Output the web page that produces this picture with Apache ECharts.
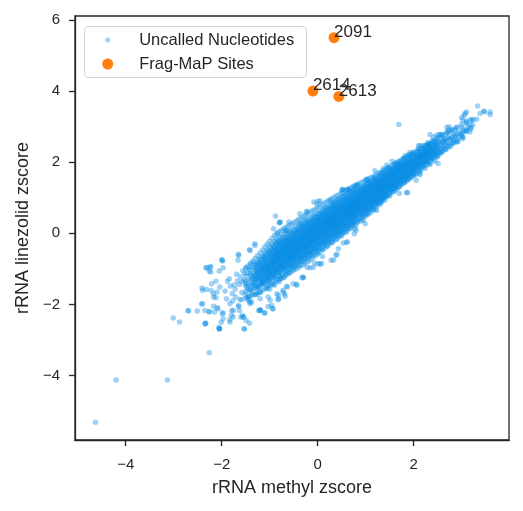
<!DOCTYPE html>
<html>
<head>
<meta charset="utf-8">
<script src="https://cdn.jsdelivr.net/npm/echarts@6/dist/echarts.min.js"></script>
<style>
html,body{margin:0;padding:0;background:#fff;}
#chart{width:523px;height:511px;}
</style>
</head>
<body>
<div id="chart"></div>
<script>
// ---- data ----
const xTickValues = [-4, -2, 0, 2];
const yTickValues = [-4, -2, 0, 2, 4, 6];
const xTickLabels = ['\u22124', '\u22122', '0', '2'];
const yTickLabels = ['\u22124', '\u22122', '0', '2', '4', '6'];

const fragNames = ['2091', '2614', '2613'];
const fragX = [0.34, -0.10, 0.44];
const fragY = [5.50, 4.00, 3.85];

const farOutliers = [
  [-4.63,-5.31],[-4.20,-4.12],[-3.13,-4.12],[-2.26,-3.36],[-3.01,-2.38],[-2.88,-2.49],
  [-2.69,-2.18],[-2.51,-2.18],[-2.42,-1.99],[-2.34,-2.54],[-2.26,-2.20],[-2.41,-1.54],
  [-2.33,-0.97],[-2.24,-0.95],[-2.26,-1.06],[-2.12,-1.35],[-2.06,-2.64],[-2.05,-2.69],
  [-2.00,-0.74],[-2.17,-1.70],[-2.22,-1.61],[-2.12,-1.81],[-2.08,-2.12],[-1.98,-2.23],
  [-2.01,-2.50],[-1.83,-2.43],[-1.80,-2.31],[-1.76,-2.17],[-1.65,-2.06],[-1.60,-2.36],
  [-1.53,-2.69],[-1.49,-2.45],[-1.42,-2.53],[-1.57,-2.31],[-1.65,-0.62],[-1.66,-0.76],
  [-1.31,-0.34],[-1.42,-0.46],[-0.88,0.49],[-0.92,0.13],[-0.78,0.31],[-0.68,0.08],
  [-1.23,-2.17],[-1.19,-2.17],[-1.11,-2.24],[-1.03,-2.06],[-0.94,-2.12],[1.69,3.06]
];

const haloPoints = [
  [-1.375,-1.93],[-1.31,-1.72],[-1.44,-1.89],[-1.03,-1.79],[-0.82,-1.75],[-0.69,-1.70],
  [-0.63,-1.51],[-0.51,-1.42],[-0.44,-1.46],[-0.33,-1.25],[-0.22,-0.95],[-0.09,-0.95],
  [-0.06,-0.84],[0.08,-0.85],[0.10,-0.65],[0.28,-0.76],[0.38,-0.62],[0.40,-0.59],
  [0.60,-0.26],[0.43,-0.43],[0.53,-0.27],[0.76,-0.01],[0.80,0.08],[0.95,0.37],
  [1.05,0.54],[1.16,0.65],[1.30,0.88],[1.38,1.02],[1.61,1.31],[1.85,1.15],[2.05,1.49],
  [2.13,1.68],[2.32,1.96],[2.50,2.15],[2.58,2.29],[2.83,2.62],[2.93,2.71],[3.02,2.85],
  [3.17,2.85],[3.33,3.58],[3.47,3.42],[3.59,3.34],[3.59,3.41],[3.38,3.37],[3.24,3.20],
  [3.07,3.37],[3.00,3.26],[3.10,3.16],[2.69,2.98],[2.72,2.90],[2.34,2.78],[2.53,2.78],
  [2.41,2.71],[2.33,2.53],[2.91,2.57],[3.00,2.71],[2.62,2.62],[-0.08,0.88],[0.01,0.90],
  [-0.24,0.60],[0.33,0.85],[0.50,1.21],[0.83,1.35],[1.02,1.51],[1.19,1.76],[1.44,1.92],
  [1.63,1.96],[1.82,2.19],[2.10,2.46],[2.24,2.47],[-0.60,0.32],[-0.37,0.55],
  [-1.98,-0.78],[-2.31,-0.97],[-2.23,-0.93],[-2.23,-1.09],[-2.05,-1.06],[-1.97,-0.97],
  [-2.40,-1.60],[-2.32,-1.58],[-2.21,-1.42],[-2.10,-1.65],[-2.04,-1.51],[-2.17,-1.79],
  [-2.40,-1.98],[-2.70,-2.17],[-2.35,-2.17],[-2.26,-2.21],[-2.15,-2.21],[-2.17,-2.05],
  [-2.09,-2.09],[-1.98,-2.26],[-1.97,-2.40],[-2.33,-2.52],[-2.05,-2.68],[-1.83,-2.49],
  [-1.76,-2.35],[-1.79,-2.17],[-1.54,-2.35],[-1.53,-2.68],[-1.63,-2.17],[-1.20,-2.17],
  [-1.10,-2.24],[-0.93,-2.12],[-1.83,-1.98],[-1.65,-2.03],[-1.58,-1.87],[-1.41,-1.93],
  [-1.20,-1.84],[-0.99,-1.88],[-0.82,-1.87],[-0.85,-1.70],[-0.72,-1.65],
  [-0.80,0.29],[-0.84,-0.01],[-1.31,-0.29],[-1.41,-0.48],[-1.65,-0.59],[-1.99,-0.76],
  [-0.22,0.62],[-0.37,0.29],[-0.26,0.37],[-0.65,0.08],[-0.02,0.83],[0.26,0.93],
  [0.53,1.23],[0.64,1.23],[0.76,1.32],[0.33,-0.76],[0.01,-0.85],[-0.16,-0.97],
  [-0.30,-1.23],[-0.44,-1.43],[-0.65,-1.49],[-0.82,-1.84],[-0.96,-2.03],[-1.20,-2.15],
  [-1.41,-1.98],[-1.55,-2.35],[-2.35,-2.54],[-2.04,-2.68],
  [2.48,2.76],[2.56,2.78],[2.74,2.99],[3.02,3.18],[3.05,3.32],[3.10,3.41],[3.46,3.43],
  [3.31,3.21],[3.17,3.04],[3.10,2.90],[3.03,2.71],[2.51,1.96],[2.13,1.65],[1.87,1.14],
  [1.70,1.12],[1.55,2.03],[1.37,1.82],[1.02,1.52],[0.81,1.35],[0.62,1.24],[0.52,1.23],
  [1.92,2.27],[2.13,2.46],[2.30,2.50],[1.23,0.65],[0.99,0.27],[0.78,0.13],[0.62,-0.24],
  [0.05,0.91],[-0.79,0.32],[0.05,-0.87],[-0.30,-1.25],[-0.72,-1.60],[-0.68,-1.77]
];

const coreInner = [
  [-1.93,-1.62],[-1.88,-1.35],[-1.90,-1.84],
  [-1.82,-1.48],[-1.78,-1.70],[-1.84,-1.28],[-1.77,-1.90],
  [-1.72,-1.57],[-1.67,-1.33],[-1.71,-1.79],[-1.69,-1.15],[-1.74,-1.45],
  [-1.61,-1.22],[-1.58,-1.66],[-1.63,-1.44],[-1.56,-1.05],[-1.62,-1.86],[-1.57,-1.36],
  [-1.52,-1.12],[-1.47,-1.50],[-1.51,-1.72],[-1.49,-0.96],[-1.54,-1.31],[-1.46,-1.84],[-1.50,-1.41],
  [-1.42,-1.02],[-1.37,-1.27],[-1.41,-1.58],[-1.39,-0.88],[-1.44,-1.76],[-1.36,-1.43],[-1.40,-1.14],[-1.38,-1.65],
  [-1.33,-0.83],[-1.28,-1.05],[-1.31,-1.37],[-1.27,-1.56],[-1.32,-1.20],[-1.26,-1.71],[-1.30,-0.96],[-1.34,-1.48],[-1.29,-1.28],
  [-1.22,-0.74],[-1.18,-0.93],[-1.21,-1.14],[-1.17,-1.33],[-1.23,-1.52],[-1.19,-1.66],[-1.16,-1.05],[-1.20,-1.25],[-1.24,-0.86],[-1.15,-1.42],
  [-1.11,-0.64],[-1.07,-0.87],[-1.12,-1.03],[-1.08,-1.21],[-1.13,-1.38],[-1.06,-1.55],[-1.10,-0.76],[-1.05,-1.12],[-1.14,-1.29],[-1.09,-0.95],[-1.04,-1.46],
  [-1.01,-0.55],[-0.97,-0.73],[-1.02,-0.92],[-0.98,-1.08],[-1.03,-1.26],[-0.96,-1.41],[-1.00,-1.57],[-0.95,-0.84],[-1.04,-1.00],[-0.99,-1.17],[-0.94,-0.66],[-1.02,-1.34],
  [-0.91,-0.45],[-0.87,-0.62],[-0.92,-0.81],[-0.88,-0.98],[-0.93,-1.14],[-0.86,-1.30],[-0.90,-1.46],[-0.85,-0.72],[-0.94,-0.90],[-0.89,-1.06],[-0.84,-0.54],[-0.92,-1.22],
  [-0.81,-0.34],[-0.77,-0.51],[-0.82,-0.68],[-0.78,-0.86],[-0.83,-1.02],[-0.76,-1.19],[-0.80,-1.36],[-0.75,-0.60],[-0.84,-0.78],[-0.79,-0.95],[-0.74,-0.43],[-0.82,-1.10],[-0.77,-1.27],
  [-0.71,-0.26],[-0.67,-0.41],[-0.72,-0.58],[-0.68,-0.75],[-0.73,-0.92],[-0.66,-1.08],[-0.70,-1.24],[-0.65,-0.50],[-0.74,-0.67],[-0.69,-0.84],[-0.64,-0.33],[-0.72,-1.00],[-0.67,-1.16],
  [-0.61,-0.18],[-0.57,-0.32],[-0.62,-0.47],[-0.58,-0.63],[-0.63,-0.79],[-0.56,-0.94],[-0.60,-1.10],[-0.55,-0.40],[-0.64,-0.55],[-0.59,-0.71],[-0.54,-0.25],[-0.62,-0.87],[-0.57,-1.02],[-0.60,-0.62],
  [-0.51,-0.05],[-0.47,-0.20],[-0.52,-0.36],[-0.48,-0.52],[-0.53,-0.68],[-0.46,-0.84],[-0.50,-0.99],[-0.45,-0.28],[-0.54,-0.44],[-0.49,-0.60],[-0.44,-0.13],[-0.52,-0.76],[-0.47,-0.92],[-0.50,-0.50],
  [-0.41,0.07],[-0.37,-0.08],[-0.42,-0.24],[-0.38,-0.40],[-0.43,-0.56],[-0.36,-0.72],[-0.40,-0.90],[-0.35,-0.16],[-0.44,-0.32],[-0.39,-0.48],[-0.34,0.00],[-0.42,-0.64],[-0.37,-0.80],[-0.40,-0.38],
  [-0.31,0.17],[-0.27,0.02],[-0.32,-0.13],[-0.28,-0.29],[-0.33,-0.45],[-0.26,-0.61],[-0.30,-0.79],[-0.25,-0.06],[-0.34,-0.21],[-0.29,-0.37],[-0.24,0.10],[-0.32,-0.53],[-0.27,-0.70],[-0.30,-0.26],
  [-0.21,0.27],[-0.17,0.12],[-0.22,-0.03],[-0.18,-0.19],[-0.23,-0.35],[-0.16,-0.51],[-0.20,-0.70],[-0.15,0.04],[-0.24,-0.11],[-0.19,-0.27],[-0.14,0.20],[-0.22,-0.43],[-0.17,-0.60],[-0.20,-0.15],
  [-0.11,0.36],[-0.07,0.21],[-0.12,0.06],[-0.08,-0.10],[-0.13,-0.26],[-0.06,-0.42],[-0.10,-0.62],[-0.05,0.13],[-0.14,-0.02],[-0.09,-0.18],[-0.04,0.29],[-0.12,-0.34],[-0.07,-0.51],[-0.10,-0.06],[-0.08,0.02],
  [-0.01,0.46],[0.03,0.31],[-0.02,0.16],[0.02,0.00],[-0.03,-0.16],[0.04,-0.32],[0.00,-0.55],[0.05,0.23],[-0.04,0.08],[0.01,-0.08],[0.06,0.38],[-0.02,-0.24],[0.03,-0.42],[0.00,0.04],[-0.05,0.12],
  [0.09,0.55],[0.13,0.40],[0.08,0.25],[0.12,0.09],[0.07,-0.07],[0.14,-0.23],[0.10,-0.45],[0.15,0.32],[0.06,0.17],[0.11,0.01],[0.16,0.47],[0.08,-0.15],[0.13,-0.33],[0.10,0.13],[0.12,0.20],
  [0.19,0.62],[0.23,0.49],[0.18,0.34],[0.22,0.18],[0.17,0.02],[0.24,-0.14],[0.20,-0.36],[0.25,0.41],[0.16,0.26],[0.21,0.10],[0.26,0.56],[0.18,-0.06],[0.23,-0.24],[0.20,0.22],[0.22,0.30],
  [0.29,0.69],[0.33,0.57],[0.28,0.43],[0.32,0.27],[0.27,0.11],[0.34,-0.05],[0.30,-0.26],[0.35,0.50],[0.26,0.35],[0.31,0.19],[0.36,0.64],[0.28,0.03],[0.33,-0.15],[0.30,0.31],[0.32,0.38],
  [0.39,0.77],[0.43,0.65],[0.38,0.51],[0.42,0.36],[0.37,0.20],[0.44,0.04],[0.40,-0.17],[0.45,0.58],[0.36,0.44],[0.41,0.28],[0.46,0.72],[0.38,0.12],[0.43,-0.06],[0.40,0.40],[0.42,0.47],
  [0.49,0.85],[0.53,0.73],[0.48,0.60],[0.52,0.45],[0.47,0.29],[0.54,0.13],[0.50,-0.07],[0.55,0.67],[0.46,0.53],[0.51,0.37],[0.56,0.80],[0.48,0.21],[0.53,0.03],[0.50,0.49],[0.52,0.56],
  [0.59,0.92],[0.63,0.81],[0.58,0.68],[0.62,0.54],[0.57,0.38],[0.64,0.22],[0.60,0.03],[0.65,0.75],[0.56,0.61],[0.61,0.46],[0.66,0.87],[0.58,0.30],[0.63,0.12],[0.60,0.58],[0.62,0.64],
  [0.69,1.02],[0.73,0.90],[0.68,0.77],[0.72,0.63],[0.67,0.47],[0.74,0.31],[0.70,0.13],[0.75,0.84],[0.66,0.70],[0.71,0.55],[0.76,0.96],[0.68,0.39],[0.73,0.22],[0.70,0.67],[0.72,0.74],
  [0.79,1.12],[0.83,1.00],[0.78,0.87],[0.82,0.73],[0.77,0.57],[0.84,0.41],[0.80,0.23],[0.85,0.94],[0.76,0.80],[0.81,0.65],[0.86,1.06],[0.78,0.49],[0.83,0.32],[0.80,0.77],[0.82,0.84],
  [0.89,1.22],[0.93,1.10],[0.88,0.97],[0.92,0.83],[0.87,0.68],[0.94,0.52],[0.90,0.35],[0.95,1.04],[0.86,0.90],[0.91,0.75],[0.96,1.16],[0.88,0.60],[0.93,0.44],[0.90,0.87],
  [0.99,1.32],[1.03,1.20],[0.98,1.07],[1.02,0.93],[0.97,0.79],[1.04,0.64],[1.00,0.48],[1.05,1.14],[0.96,1.00],[1.01,0.86],[1.06,1.26],[0.98,0.71],[1.03,0.56],[1.00,0.97],
  [1.09,1.42],[1.13,1.30],[1.08,1.17],[1.12,1.03],[1.07,0.89],[1.14,0.74],[1.10,0.58],[1.15,1.24],[1.06,1.10],[1.11,0.96],[1.16,1.36],[1.08,0.81],[1.13,0.66],[1.10,1.07],
  [1.19,1.52],[1.23,1.40],[1.18,1.27],[1.22,1.13],[1.17,0.99],[1.24,0.84],[1.20,0.68],[1.25,1.34],[1.16,1.20],[1.21,1.06],[1.26,1.46],[1.18,0.91],[1.23,0.76],
  [1.29,1.62],[1.33,1.50],[1.28,1.37],[1.32,1.23],[1.27,1.09],[1.34,0.95],[1.30,0.81],[1.35,1.44],[1.26,1.30],[1.31,1.16],[1.36,1.56],[1.28,1.02],[1.33,0.88],
  [1.39,1.72],[1.43,1.60],[1.38,1.47],[1.42,1.33],[1.37,1.19],[1.44,1.05],[1.40,0.93],[1.45,1.54],[1.36,1.40],[1.41,1.26],[1.46,1.66],[1.38,1.12],
  [1.49,1.82],[1.53,1.70],[1.48,1.57],[1.52,1.43],[1.47,1.29],[1.54,1.16],[1.50,1.05],[1.55,1.64],[1.46,1.50],[1.51,1.36],[1.56,1.76],[1.48,1.22],
  [1.59,1.92],[1.63,1.80],[1.58,1.67],[1.62,1.53],[1.57,1.39],[1.64,1.27],[1.60,1.18],[1.65,1.74],[1.56,1.60],[1.61,1.46],[1.66,1.86],
  [1.69,2.02],[1.73,1.90],[1.68,1.77],[1.72,1.63],[1.67,1.49],[1.74,1.37],[1.70,1.30],[1.75,1.84],[1.66,1.70],[1.71,1.56],[1.76,1.96],
  [1.79,2.12],[1.83,2.00],[1.78,1.87],[1.82,1.73],[1.77,1.59],[1.84,1.47],[1.80,1.42],[1.85,1.94],[1.76,1.80],[1.81,1.66],
  [1.89,2.20],[1.93,2.08],[1.88,1.96],[1.92,1.83],[1.87,1.69],[1.94,1.57],[1.90,1.52],[1.95,2.02],[1.86,1.90],[1.91,1.76],
  [1.99,2.28],[2.03,2.16],[1.98,2.04],[2.02,1.91],[1.97,1.78],[2.04,1.66],[2.00,1.62],[2.05,2.10],[1.96,1.97],
  [2.09,2.37],[2.13,2.24],[2.08,2.12],[2.12,1.99],[2.07,1.86],[2.14,1.75],[2.10,2.05],[2.15,2.18],
  [2.19,2.47],[2.23,2.33],[2.18,2.20],[2.22,2.07],[2.17,1.94],[2.24,1.83],[2.20,2.14],[2.25,2.27],
  [2.29,2.55],[2.33,2.42],[2.28,2.29],[2.32,2.16],[2.27,2.03],[2.34,1.93],[2.30,2.22],
  [2.39,2.62],[2.43,2.50],[2.38,2.37],[2.42,2.24],[2.37,2.12],[2.44,2.03],[2.40,2.30],
  [2.49,2.69],[2.53,2.57],[2.48,2.44],[2.52,2.31],[2.47,2.19],[2.54,2.38],
  [2.59,2.77],[2.63,2.65],[2.58,2.52],[2.62,2.39],[2.57,2.27],[2.64,2.46],
  [2.69,2.84],[2.73,2.71],[2.68,2.58],[2.72,2.45],[2.67,2.35],
  [2.79,2.92],[2.83,2.79],[2.78,2.66],[2.82,2.53],[2.77,2.44],
  [2.89,2.98],[2.93,2.84],[2.88,2.71],[2.92,2.58],
  [2.99,3.06],[3.03,2.92],[2.98,2.79],[3.02,2.66],
  [3.09,3.12],[3.13,2.98],[3.08,2.86],
  [3.19,3.20],[3.23,3.05],[3.18,2.93]
];

// dense band, read as columns: one methyl-zscore value per column and the linezolid values seen in it
const bandColumnX = [
  -1.50,-1.45,-1.40,-1.35,-1.30,-1.25,-1.20,-1.15,-1.10,-1.05,-1.00,-0.95,
  -0.90,-0.85,-0.80,-0.75,-0.70,-0.65,-0.60,-0.55,-0.50,-0.45,-0.40,-0.35,-0.30,-0.25,-0.20,-0.15,
  -0.10,-0.05,0.00,0.05,0.10,0.15,0.20,0.25,0.30,0.35,0.40,0.45,0.50,0.55,0.60,0.65,0.70,0.75,
  0.80,0.85,0.90,0.95,1.00,1.05,1.10,1.15,1.20,1.25,1.30,1.35,1.40,1.45,1.50,1.55,1.60,
  1.65,1.70,1.75,1.80,1.85,1.90,1.95,2.00,2.05,2.10,2.15,2.20,2.25,2.30,2.35,2.40,2.45,2.50,
  2.55,2.60,2.65,2.70,2.75,2.80,2.85,2.90,3.00,3.10,3.20
];
const bandColumnY = [
  [-1.82,-1.63,-1.48,-1.35,-1.19,-0.99],
  [-1.78,-1.58,-1.44,-1.30,-1.12,-0.92],
  [-1.77,-1.60,-1.45,-1.32,-1.18,-1.02,-0.84],
  [-1.73,-1.55,-1.40,-1.27,-1.13,-0.97,-0.78],
  [-1.71,-1.54,-1.40,-1.28,-1.16,-1.03,-0.88,-0.70],
  [-1.67,-1.50,-1.35,-1.22,-1.10,-0.97,-0.81,-0.63],
  [-1.64,-1.48,-1.35,-1.23,-1.11,-0.99,-0.86,-0.71,-0.55],
  [-1.60,-1.44,-1.30,-1.17,-1.05,-0.93,-0.80,-0.64,-0.47],
  [-1.56,-1.41,-1.28,-1.16,-1.05,-0.94,-0.82,-0.69,-0.54,-0.38],
  [-1.52,-1.36,-1.23,-1.11,-0.99,-0.88,-0.76,-0.62,-0.46,-0.30],
  [-1.48,-1.33,-1.20,-1.08,-0.97,-0.87,-0.77,-0.65,-0.52,-0.37,-0.22],
  [-1.44,-1.29,-1.16,-1.03,-0.92,-0.82,-0.72,-0.60,-0.46,-0.31,-0.14],
  [-1.41,-1.27,-1.18,-1.05,-0.97,-0.88,-0.80,-0.74,-0.66,-0.59,-0.47,-0.36,-0.22,-0.06],
  [-1.35,-1.19,-1.08,-1.01,-0.91,-0.78,-0.71,-0.63,-0.55,-0.49,-0.40,-0.27,-0.15,0.00],
  [-1.30,-1.21,-1.10,-0.96,-0.85,-0.76,-0.69,-0.61,-0.52,-0.44,-0.33,-0.24,-0.10,0.05],
  [-1.26,-1.13,-1.01,-0.92,-0.83,-0.72,-0.64,-0.57,-0.50,-0.41,-0.31,-0.19,-0.07,0.09],
  [-1.22,-1.06,-0.98,-0.87,-0.77,-0.68,-0.60,-0.53,-0.45,-0.37,-0.28,-0.16,-0.02,0.14],
  [-1.17,-1.04,-0.93,-0.81,-0.73,-0.65,-0.56,-0.48,-0.42,-0.34,-0.23,-0.12,0.03,0.18],
  [-1.13,-1.01,-0.89,-0.79,-0.70,-0.61,-0.52,-0.46,-0.38,-0.29,-0.21,-0.09,0.06,0.22],
  [-1.09,-0.95,-0.86,-0.74,-0.66,-0.57,-0.49,-0.40,-0.33,-0.26,-0.15,-0.05,0.11,0.26],
  [-1.04,-0.92,-0.80,-0.71,-0.62,-0.53,-0.45,-0.38,-0.30,-0.20,-0.12,0.00,0.14,0.30],
  [-1.00,-0.87,-0.77,-0.66,-0.58,-0.49,-0.41,-0.34,-0.25,-0.17,-0.07,0.05,0.19,0.34],
  [-0.96,-0.83,-0.72,-0.63,-0.53,-0.45,-0.36,-0.29,-0.21,-0.12,-0.03,0.09,0.23,0.39],
  [-0.91,-0.79,-0.68,-0.58,-0.49,-0.40,-0.32,-0.25,-0.17,-0.08,0.02,0.13,0.28,0.43],
  [-0.88,-0.74,-0.64,-0.55,-0.45,-0.36,-0.28,-0.21,-0.12,-0.04,0.06,0.18,0.31,0.47],
  [-0.83,-0.71,-0.59,-0.50,-0.41,-0.33,-0.24,-0.16,-0.09,0.01,0.10,0.21,0.36,0.51],
  [-0.79,-0.66,-0.56,-0.46,-0.37,-0.28,-0.20,-0.13,-0.04,0.04,0.15,0.26,0.40,0.55],
  [-0.75,-0.62,-0.51,-0.41,-0.33,-0.24,-0.15,-0.08,0.00,0.09,0.19,0.30,0.44,0.60],
  [-0.69,-0.57,-0.47,-0.37,-0.28,-0.19,-0.11,-0.03,0.05,0.13,0.23,0.35,0.49,0.64],
  [-0.63,-0.51,-0.41,-0.32,-0.23,-0.14,-0.06,0.02,0.10,0.18,0.28,0.39,0.53,0.68],
  [-0.58,-0.47,-0.36,-0.27,-0.18,-0.09,-0.01,0.07,0.15,0.23,0.33,0.44,0.57,0.73],
  [-0.52,-0.41,-0.31,-0.22,-0.13,-0.05,0.04,0.12,0.20,0.28,0.37,0.49,0.62,0.77],
  [-0.46,-0.36,-0.26,-0.17,-0.08,0.01,0.09,0.17,0.25,0.33,0.42,0.53,0.66,0.81],
  [-0.41,-0.30,-0.21,-0.12,-0.03,0.06,0.14,0.22,0.30,0.38,0.47,0.58,0.71,0.86],
  [-0.35,-0.25,-0.16,-0.07,0.02,0.11,0.19,0.27,0.35,0.43,0.52,0.62,0.75,0.90],
  [-0.29,-0.19,-0.10,-0.02,0.07,0.16,0.24,0.32,0.40,0.48,0.57,0.67,0.80,0.94],
  [-0.25,-0.14,-0.06,0.03,0.12,0.20,0.28,0.36,0.44,0.52,0.61,0.71,0.84,0.98],
  [-0.19,-0.09,0.00,0.08,0.17,0.25,0.33,0.41,0.49,0.57,0.66,0.76,0.88,1.02],
  [-0.13,-0.03,0.06,0.14,0.22,0.30,0.38,0.46,0.54,0.62,0.71,0.81,0.93,1.06],
  [-0.09,0.01,0.10,0.18,0.26,0.34,0.42,0.50,0.58,0.66,0.75,0.85,0.97,1.10],
  [-0.03,0.07,0.15,0.23,0.31,0.39,0.47,0.55,0.63,0.71,0.80,0.90,1.02,1.14],
  [0.02,0.12,0.20,0.28,0.36,0.44,0.52,0.59,0.67,0.75,0.84,0.94,1.05,1.17],
  [0.08,0.17,0.25,0.33,0.41,0.49,0.57,0.64,0.72,0.80,0.89,0.99,1.10,1.21],
  [0.14,0.23,0.31,0.39,0.47,0.55,0.62,0.69,0.77,0.85,0.93,1.03,1.14,1.25],
  [0.19,0.28,0.36,0.44,0.51,0.59,0.66,0.73,0.81,0.89,0.97,1.07,1.18,1.29],
  [0.25,0.34,0.42,0.49,0.57,0.64,0.71,0.78,0.86,0.93,1.01,1.11,1.22,1.33],
  [0.31,0.41,0.50,0.59,0.67,0.75,0.83,0.91,1.00,1.09,1.20,1.36],
  [0.36,0.46,0.55,0.63,0.71,0.79,0.87,0.95,1.04,1.13,1.24,1.39],
  [0.43,0.53,0.61,0.69,0.77,0.85,0.92,1.00,1.08,1.17,1.28,1.42],
  [0.49,0.58,0.66,0.74,0.82,0.90,0.97,1.05,1.13,1.22,1.32,1.46],
  [0.54,0.63,0.71,0.79,0.86,0.94,1.01,1.09,1.17,1.26,1.36,1.49],
  [0.60,0.69,0.77,0.84,0.92,0.99,1.06,1.14,1.22,1.30,1.40,1.53],
  [0.67,0.75,0.83,0.90,0.97,1.04,1.11,1.19,1.27,1.35,1.45,1.56],
  [0.72,0.81,0.89,0.96,1.03,1.10,1.17,1.25,1.33,1.43,1.59],
  [0.78,0.87,0.95,1.02,1.09,1.16,1.23,1.31,1.39,1.49,1.63],
  [0.83,0.92,1.00,1.07,1.14,1.21,1.28,1.35,1.43,1.53,1.68],
  [0.88,0.97,1.05,1.12,1.19,1.26,1.32,1.39,1.47,1.57,1.71],
  [0.94,1.02,1.10,1.17,1.24,1.31,1.37,1.44,1.52,1.61,1.75],
  [1.00,1.09,1.17,1.25,1.32,1.39,1.46,1.54,1.64,1.79],
  [1.05,1.14,1.22,1.30,1.37,1.44,1.51,1.59,1.69,1.84],
  [1.10,1.19,1.27,1.34,1.41,1.48,1.55,1.63,1.73,1.87],
  [1.16,1.25,1.33,1.40,1.47,1.54,1.61,1.68,1.78,1.91],
  [1.21,1.30,1.38,1.45,1.52,1.59,1.66,1.73,1.83,1.96],
  [1.26,1.36,1.44,1.52,1.60,1.67,1.75,1.85,1.99],
  [1.32,1.41,1.49,1.57,1.65,1.72,1.80,1.90,2.03],
  [1.38,1.47,1.55,1.62,1.70,1.77,1.85,1.94,2.07],
  [1.42,1.51,1.59,1.67,1.74,1.81,1.89,1.98,2.11],
  [1.48,1.58,1.67,1.75,1.83,1.91,2.01,2.15],
  [1.54,1.64,1.72,1.80,1.88,1.96,2.06,2.19],
  [1.59,1.69,1.77,1.85,1.92,2.00,2.10,2.22],
  [1.65,1.74,1.82,1.90,1.97,2.05,2.15,2.26],
  [1.69,1.80,1.89,1.97,2.05,2.15,2.30],
  [1.75,1.86,1.95,2.03,2.11,2.21,2.34],
  [1.81,1.92,2.00,2.08,2.16,2.26,2.38],
  [1.86,1.96,2.05,2.13,2.21,2.30,2.41],
  [1.91,2.03,2.13,2.22,2.32,2.46],
  [1.97,2.09,2.19,2.27,2.37,2.50],
  [2.02,2.13,2.23,2.31,2.41,2.53],
  [2.08,2.21,2.31,2.42,2.57],
  [2.14,2.27,2.37,2.48,2.61],
  [2.19,2.31,2.42,2.53,2.66],
  [2.25,2.40,2.53,2.69],
  [2.30,2.45,2.58,2.74],
  [2.36,2.51,2.63,2.78],
  [2.40,2.55,2.67,2.83],
  [2.48,2.64,2.84],
  [2.53,2.69,2.89],
  [2.56,2.74,2.92],
  [2.62,2.79,2.97],
  [2.78,2.98],
  [2.88,3.08],
  [2.97,3.17]
];

// the most crowded middle of the band, read between the columns above
const bandMidX = [
  -1.275,-1.225,-1.175,-1.125,-1.075,-1.025,-0.975,-0.925,
  -0.875,-0.825,-0.775,-0.725,-0.675,-0.625,-0.575,-0.525,-0.475,-0.425,-0.375,-0.325,-0.275,-0.225,-0.175,-0.125,
  -0.075,-0.025,0.025,0.075,0.125,0.175,0.225,0.275,0.325,0.375,0.425,0.475,0.525,0.575,0.625,0.675,0.725,0.775,
  0.825,0.875,0.925,0.975,1.025,1.075,1.125,1.175,1.225,1.275,1.325,1.375,1.425,1.475,
  1.525,1.575,1.625,1.675,1.725,1.775,1.825,1.875,1.925,1.975,
  2.025,2.075,2.125,2.175,2.225,2.275,2.325,2.375,2.425,2.475
];
const bandMidY = [
  [-1.48,-1.31,-1.18,-1.05,-0.90],
  [-1.45,-1.27,-1.13,-1.00,-0.84],
  [-1.40,-1.25,-1.12,-1.01,-0.89,-0.74],
  [-1.36,-1.20,-1.07,-0.96,-0.83,-0.67],
  [-1.33,-1.19,-1.06,-0.95,-0.84,-0.72,-0.58],
  [-1.27,-1.12,-1.00,-0.89,-0.78,-0.65,-0.50],
  [-1.24,-1.10,-0.98,-0.87,-0.77,-0.67,-0.55,-0.41],
  [-1.18,-1.05,-0.93,-0.82,-0.72,-0.61,-0.49,-0.35],
  [-1.15,-1.02,-0.91,-0.80,-0.71,-0.61,-0.52,-0.41,-0.28],
  [-1.07,-0.93,-0.82,-0.72,-0.62,-0.53,-0.42,-0.31,-0.20],
  [-1.07,-0.96,-0.84,-0.73,-0.64,-0.54,-0.45,-0.34,-0.22],
  [-0.94,-0.81,-0.70,-0.60,-0.50,-0.41,-0.34,-0.23,-0.12],
  [-0.95,-0.81,-0.70,-0.62,-0.50,-0.41,-0.31,-0.20,-0.11],
  [-0.92,-0.79,-0.68,-0.57,-0.48,-0.38,-0.29,-0.18,-0.05],
  [-0.85,-0.71,-0.60,-0.50,-0.40,-0.31,-0.20,-0.09,0.03],
  [-0.85,-0.74,-0.62,-0.51,-0.42,-0.32,-0.23,-0.12,0.00],
  [-0.73,-0.60,-0.49,-0.39,-0.29,-0.20,-0.13,-0.02,0.09],
  [-0.74,-0.60,-0.49,-0.41,-0.29,-0.20,-0.10,0.02,0.11],
  [-0.70,-0.57,-0.46,-0.35,-0.26,-0.16,-0.07,0.04,0.17],
  [-0.63,-0.49,-0.38,-0.28,-0.18,-0.09,0.02,0.13,0.24],
  [-0.64,-0.53,-0.41,-0.30,-0.21,-0.11,-0.02,0.09,0.21],
  [-0.52,-0.39,-0.28,-0.18,-0.08,0.01,0.08,0.19,0.30],
  [-0.53,-0.39,-0.28,-0.20,-0.08,0.02,0.12,0.23,0.32],
  [-0.49,-0.36,-0.25,-0.14,-0.05,0.06,0.15,0.26,0.39],
  [-0.41,-0.27,-0.16,-0.06,0.05,0.14,0.25,0.36,0.47],
  [-0.41,-0.30,-0.18,-0.07,0.03,0.13,0.22,0.33,0.45],
  [-0.28,-0.15,-0.04,0.07,0.17,0.26,0.33,0.44,0.55],
  [-0.28,-0.14,-0.03,0.06,0.18,0.27,0.37,0.48,0.57],
  [-0.24,-0.11,0.01,0.12,0.21,0.31,0.40,0.51,0.64],
  [-0.16,-0.02,0.10,0.20,0.30,0.39,0.50,0.61,0.72],
  [-0.16,-0.05,0.08,0.19,0.28,0.38,0.47,0.58,0.70],
  [-0.03,0.10,0.21,0.31,0.41,0.50,0.57,0.68,0.79],
  [-0.04,0.11,0.22,0.30,0.42,0.51,0.61,0.72,0.81],
  [0.01,0.14,0.25,0.36,0.45,0.55,0.64,0.75,0.88],
  [0.08,0.22,0.33,0.43,0.53,0.62,0.73,0.84,0.95],
  [0.08,0.19,0.31,0.42,0.51,0.61,0.70,0.81,0.93],
  [0.20,0.33,0.44,0.54,0.64,0.73,0.80,0.91,1.02],
  [0.20,0.34,0.45,0.53,0.65,0.74,0.84,0.95,1.04],
  [0.24,0.37,0.48,0.59,0.68,0.78,0.87,0.98,1.11],
  [0.31,0.45,0.56,0.66,0.76,0.85,0.96,1.07,1.18],
  [0.31,0.42,0.54,0.65,0.74,0.84,0.93,1.04,1.16],
  [0.44,0.57,0.68,0.78,0.88,0.97,1.04,1.15,1.26],
  [0.50,0.61,0.71,0.80,0.89,0.98,1.08,1.20],
  [0.58,0.70,0.80,0.89,0.98,1.07,1.17,1.28],
  [0.58,0.69,0.79,0.88,0.97,1.05,1.15,1.26],
  [0.64,0.75,0.85,0.94,1.03,1.12,1.22,1.34],
  [0.72,0.84,0.94,1.03,1.12,1.21,1.31,1.42],
  [0.72,0.83,0.93,1.02,1.11,1.19,1.29,1.40],
  [0.78,0.89,0.99,1.08,1.17,1.26,1.36,1.48],
  [0.86,0.98,1.08,1.17,1.26,1.35,1.45,1.56],
  [0.86,0.97,1.07,1.16,1.25,1.33,1.43,1.54],
  [0.92,1.03,1.13,1.22,1.31,1.40,1.50,1.62],
  [1.00,1.12,1.22,1.31,1.40,1.49,1.59,1.70],
  [1.00,1.11,1.21,1.30,1.39,1.47,1.57,1.68],
  [1.07,1.18,1.28,1.37,1.46,1.55,1.65,1.77],
  [1.14,1.26,1.36,1.45,1.54,1.63,1.73,1.84],
  [1.24,1.34,1.43,1.52,1.61,1.70,1.81],
  [1.27,1.37,1.46,1.54,1.63,1.72,1.82],
  [1.35,1.46,1.55,1.64,1.73,1.82,1.92],
  [1.38,1.48,1.57,1.66,1.75,1.84,1.95],
  [1.41,1.51,1.60,1.68,1.77,1.86,1.96],
  [1.49,1.60,1.69,1.78,1.87,1.96,2.06],
  [1.52,1.62,1.71,1.80,1.89,1.98,2.09],
  [1.55,1.65,1.74,1.82,1.91,2.00,2.10],
  [1.63,1.74,1.83,1.92,2.01,2.10,2.20],
  [1.66,1.76,1.85,1.94,2.03,2.12,2.23],
  [1.74,1.84,1.93,2.02,2.11,2.21],
  [1.81,1.91,2.00,2.09,2.18,2.28],
  [1.84,1.94,2.03,2.12,2.21,2.31],
  [1.90,2.00,2.09,2.18,2.27,2.37],
  [1.93,2.03,2.12,2.21,2.30,2.40],
  [2.02,2.13,2.22,2.32,2.42],
  [2.09,2.19,2.29,2.38,2.48],
  [2.11,2.22,2.31,2.41,2.51],
  [2.19,2.29,2.39,2.48,2.58],
  [2.25,2.36,2.46,2.57]
];

// ---- chart ----
function columnsToPoints(xs, ys) {
  const out = [];
  xs.forEach((x, i) => { ys[i].forEach(y => out.push([x, y])); });
  return out;
}
const uncalled = columnsToPoints(bandColumnX, bandColumnY)
  .concat(columnsToPoints(bandMidX, bandMidY), coreInner, haloPoints, farOutliers);
const fragData = fragNames.map((n, i) => ({ name: n, value: [fragX[i], fragY[i]] }));

const FONT = '"Liberation Sans", Arial, Helvetica, sans-serif';
const INK = '#262626';

function lookup(values, labels) {
  return function (v) {
    for (let i = 0; i < values.length; i++) {
      if (Math.abs(values[i] - v) < 1e-9) return labels[i];
    }
    return '';
  };
}

const chart = echarts.init(document.getElementById('chart'), null, { renderer: 'canvas' });
chart.setOption({
  animation: false,
  backgroundColor: '#ffffff',
  textStyle: { fontFamily: FONT },
  grid: {
    left: 75, right: 14, top: 16, bottom: 71,
    show: true, borderColor: INK, borderWidth: 1.3, backgroundColor: 'transparent'
  },
  xAxis: {
    type: 'value', min: -5.056, max: 3.985,
    name: 'rRNA methyl zscore', nameLocation: 'middle', nameGap: 39,
    nameTextStyle: { fontSize: 18, color: INK, fontFamily: FONT },
    axisLine: { show: true, onZero: false, lineStyle: { color: INK, width: 1.3 } },
    axisTick: { show: true, length: 6, customValues: xTickValues, lineStyle: { color: INK, width: 1.3 } },
    axisLabel: { customValues: xTickValues, formatter: lookup(xTickValues, xTickLabels),
      fontSize: 15, color: INK, margin: 17, fontFamily: FONT },
    splitLine: { show: false }
  },
  yAxis: {
    type: 'value', min: -5.81, max: 6.11,
    name: 'rRNA linezolid zscore', nameLocation: 'middle', nameGap: 43,
    nameTextStyle: { fontSize: 18, color: INK, fontFamily: FONT },
    axisLine: { show: true, onZero: false, lineStyle: { color: INK, width: 1.3 } },
    axisTick: { show: true, length: 6, customValues: yTickValues, lineStyle: { color: INK, width: 1.3 } },
    axisLabel: { customValues: yTickValues, formatter: lookup(yTickValues, yTickLabels),
      fontSize: 15, color: INK, margin: 15, fontFamily: FONT },
    splitLine: { show: false }
  },
  graphic: [{
    type: 'rect', z: 1, silent: true,
    shape: { x: 84.5, y: 26.5, width: 222, height: 51, r: 4 },
    style: { fill: 'rgba(255,255,255,0.8)', stroke: '#d4d4d4', lineWidth: 1 }
  }],
  legend: [
    {
      data: ['Uncalled Nucleotides'], left: 105.2, top: 30, padding: 0,
      itemWidth: 5, itemHeight: 5, z: 5,
      textStyle: { fontSize: 16.5, color: INK, fontFamily: FONT, lineHeight: 20, padding: [0, 0, 0, 24] }
    },
    {
      data: ['Frag-MaP Sites'], left: 102.2, top: 54, padding: 0,
      itemWidth: 11, itemHeight: 11, z: 5,
      textStyle: { fontSize: 16.5, color: INK, fontFamily: FONT, lineHeight: 20, padding: [0, 0, 0, 21] }
    }
  ],
  series: [
    {
      name: 'Uncalled Nucleotides', type: 'scatter', data: uncalled,
      symbol: 'circle', symbolSize: 5.5,
      itemStyle: { color: '#0a8fe6', opacity: 0.4, borderWidth: 0 },
      emphasis: { disabled: true }
    },
    {
      name: 'Frag-MaP Sites', type: 'scatter', data: fragData,
      symbol: 'circle', symbolSize: 11, z: 3,
      itemStyle: { color: '#ff7f0e', opacity: 1 },
      label: {
        show: true, formatter: '{b}', position: [5.5, 8.5],
        align: 'left', verticalAlign: 'bottom',
        fontSize: 17, color: INK, fontFamily: FONT
      },
      emphasis: { disabled: true }
    }
  ]
});
</script>
</body>
</html>
